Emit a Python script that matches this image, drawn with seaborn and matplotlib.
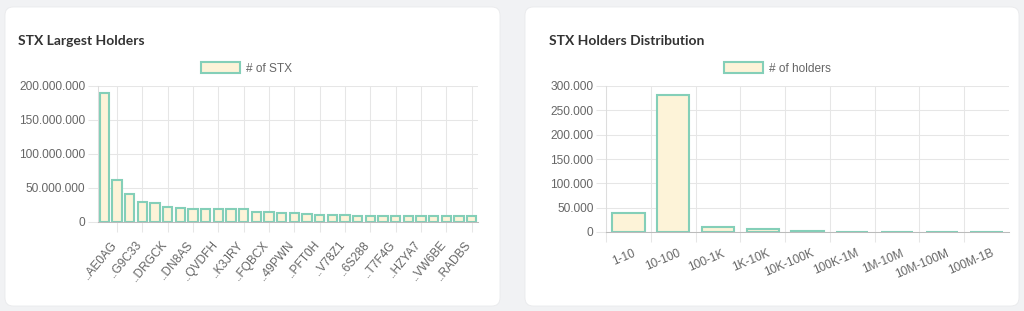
import matplotlib
matplotlib.use("Agg")
import matplotlib.pyplot as plt
from matplotlib.patches import FancyBboxPatch
from matplotlib.ticker import FuncFormatter, FixedLocator
from matplotlib.transforms import ScaledTranslation
import seaborn as sns
import pandas as pd

# ---------------- data ----------------
holder_rank = list(range(1, 31))
holder_labels_shown = ["..AE0AG", "..G9C33", "..DRGCK", "..DN8AS", "..QVDFH",
                       "..K3JRY", "..FQBCX", "..49PWN", "..PFT0H", "..V78Z1",
                       "..6S288", "..T7F4G", "..HZYA7", "..VW6BE", "..RADBS"]
holder_stx = [189e6, 62e6, 41e6, 29e6, 28e6, 21.5e6, 20e6, 19.5e6, 19.5e6, 19.5e6,
              19.5e6, 18.5e6, 14.7e6, 14.2e6, 13.7e6, 13.2e6, 12.2e6, 10.8e6, 10.8e6, 9.8e6,
              9.4e6, 9.3e6, 9.3e6, 9.3e6, 9.2e6, 9.2e6, 9.2e6, 9.1e6, 9.1e6, 9.0e6]

dist_buckets = ["1-10", "10-100", "100-1K", "1K-10K", "10K-100K",
                "100K-1M", "1M-10M", "10M-100M", "100M-1B"]
dist_holders = [38200, 282000, 9500, 5500, 1400, 200, 60, 25, 8]

# ---------------- style ----------------
sns.set_theme(style="white")
plt.rcParams["font.family"] = ["Liberation Sans", "DejaVu Sans"]

BG = "#f1f2f4"
FILL = "#fdf3d8"
EDGE = "#84cfb8"
GRID = "#e6e6e6"
TICK = "#666666"
W, H = 1024, 311

fig = plt.figure(figsize=(W / 100, H / 100), dpi=100, facecolor=BG)

def fx(px):
    return px / W

def fy(py):
    return 1 - py / H

# cards
for x0, x1 in [(5, 500), (525, 1019)]:
    card = FancyBboxPatch((fx(x0), fy(306)), fx(x1 - x0), (306 - 7) / H,
                          boxstyle="round,pad=0,rounding_size=0.008",
                          transform=fig.transFigure, facecolor="white",
                          edgecolor="#e9eaec", linewidth=0.6, zorder=-5,
                          mutation_aspect=W / H)
    fig.patches.append(card)

fmt = FuncFormatter(lambda v, p: f"{int(round(v)):,}".replace(",", "."))
tick_fs = 8.6

def style_axes(ax, ymax, ystep):
    ax.set_facecolor("none")
    ax.set_ylim(0, ymax)
    ax.yaxis.set_major_locator(FixedLocator([i * ystep for i in range(int(ymax / ystep) + 1)]))
    ax.yaxis.set_major_formatter(fmt)
    ax.grid(axis="y", color=GRID, linewidth=0.75)
    for s in ["top", "right"]:
        ax.spines[s].set_visible(False)
    ax.spines["left"].set_color("#dddddd")
    ax.spines["bottom"].set_color("#bbbbbb")
    ax.spines["left"].set_linewidth(0.75)
    ax.spines["bottom"].set_linewidth(0.75)
    ax.tick_params(axis="y", length=7, width=0.75, color=GRID, pad=2,
                   labelsize=tick_fs, labelcolor=TICK, left=True)
    ax.set_xlabel("")
    ax.set_ylabel("")

# ---------------- left chart ----------------
ax1 = fig.add_axes([fx(98), fy(222), fx(478 - 98), (222 - 86) / H])
df1 = pd.DataFrame({"rank": holder_rank, "stx": holder_stx})
sns.barplot(data=df1, x="rank", y="stx", ax=ax1, color=FILL, saturation=1,
            edgecolor=EDGE, linewidth=1.5, width=0.72, label="# of STX")
style_axes(ax1, 200e6, 50e6)
n1 = len(holder_rank)
ax1.set_xlim(-0.5, n1 - 0.5)
ax1.set_xticks(list(range(0, n1, 2)))
ax1.set_xticklabels(holder_labels_shown, rotation=50, ha="right",
                    rotation_mode="anchor", fontsize=tick_fs, color=TICK)
ax1.tick_params(axis="x", which="major", length=0, pad=12)
shift = ScaledTranslation(6 / 100, 0, fig.dpi_scale_trans)
for lab in ax1.get_xticklabels():
    lab.set_transform(lab.get_transform() + shift)
ax1.set_xticks(list(range(1, n1, 2)), minor=True)
ax1.grid(axis="x", which="minor", color=GRID, linewidth=0.75)
ax1.tick_params(axis="x", which="minor", length=7, width=0.75, color=GRID, bottom=True)
ax1.set_axisbelow(True)
ax1.legend(loc="center left", bbox_to_anchor=(fx(201), fy(68.5)),
           bbox_transform=fig.transFigure, frameon=False, fontsize=tick_fs,
           labelcolor=TICK, handlelength=3.3, handleheight=1.05,
           handletextpad=0.45, borderpad=0, borderaxespad=0)

# ---------------- right chart ----------------
ax2 = fig.add_axes([fx(606), fy(232), fx(1009 - 606), (232 - 86) / H])
df2 = pd.DataFrame({"bucket": dist_buckets, "holders": dist_holders})
sns.barplot(data=df2, x="bucket", y="holders", ax=ax2, color=FILL, saturation=1,
            edgecolor=EDGE, linewidth=1.5, width=0.72, label="# of holders")
style_axes(ax2, 300000, 50000)
n2 = len(dist_buckets)
ax2.set_xlim(-0.5, n2 - 0.5)
ax2.set_xticks(list(range(n2)))
ax2.set_xticklabels(dist_buckets, rotation=23, ha="right",
                    rotation_mode="anchor", fontsize=tick_fs, color=TICK)
ax2.tick_params(axis="x", which="major", length=0, pad=11)
shift2 = ScaledTranslation(4 / 100, 0, fig.dpi_scale_trans)
for lab in ax2.get_xticklabels():
    lab.set_transform(lab.get_transform() + shift2)
ax2.set_xticks([i - 0.5 for i in range(n2)], minor=True)
ax2.grid(axis="x", which="minor", color=GRID, linewidth=0.75)
ax2.tick_params(axis="x", which="minor", length=7, width=0.75, color=GRID, bottom=True)
ax2.set_axisbelow(True)
ax2.legend(loc="center left", bbox_to_anchor=(fx(724), fy(68.5)),
           bbox_transform=fig.transFigure, frameon=False, fontsize=tick_fs,
           labelcolor=TICK, handlelength=3.3, handleheight=1.05,
           handletextpad=0.45, borderpad=0, borderaxespad=0)

# titles
for x, t in [(18, "STX Largest Holders"), (549, "STX Holders Distribution")]:
    fig.text(fx(x), fy(41), t, fontsize=10, fontweight="bold", color="#333333",
             family=["Lato", "DejaVu Sans"], va="center", ha="left")

fig.savefig("out.png", dpi=100, facecolor=BG)
